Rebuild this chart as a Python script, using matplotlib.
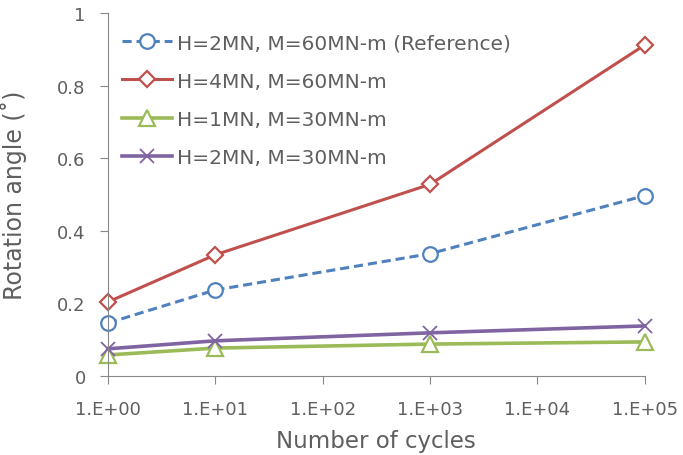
import matplotlib
matplotlib.use("Agg")
import matplotlib.pyplot as plt

plt.rcParams["font.family"] = ["DejaVu Sans"]

cycles = [1, 10, 1000, 100000]
ref_h2_m60 = [0.146, 0.237, 0.337, 0.497]
h4_m60 = [0.204, 0.334, 0.528, 0.912]
h1_m30 = [0.058, 0.077, 0.088, 0.094]
h2_m30 = [0.075, 0.097, 0.119, 0.138]

xticks = [1, 10, 100, 1000, 10000, 100000]
xtick_labels = ["1.E+00", "1.E+01", "1.E+02", "1.E+03", "1.E+04", "1.E+05"]
yticks = [0, 0.2, 0.4, 0.6, 0.8, 1]
ytick_labels = ["0", "0.2", "0.4", "0.6", "0.8", "1"]

fig = plt.figure(figsize=(6.83, 4.56), dpi=100)
ax = fig.add_axes([0.158, 0.1732, 0.786, 0.796])

grey = "#5f5f5f"
ax.plot(cycles, ref_h2_m60, "--", color="#4F81BD", lw=2.2, marker="o", ms=10.5,
        mfc="white", mew=1.6, clip_on=False, dashes=(3, 1.6),
        label="H=2MN, M=60MN-m (Reference)")
ax.plot(cycles, h4_m60, "-", color="#C0504D", lw=2.2, marker="D", ms=8.5,
        mfc="white", mew=1.6, clip_on=False, label="H=4MN, M=60MN-m")
ax.plot(cycles, h1_m30, "-", color="#9BBB59", lw=2.6, marker="^", ms=11,
        mfc="white", mew=1.6, clip_on=False, label="H=1MN, M=30MN-m")
ax.plot(cycles, h2_m30, "-", color="#8064A2", lw=2.6, marker="x", ms=10,
        mew=1.3, clip_on=False, label="H=2MN, M=30MN-m")

ax.set_xscale("log")
ax.set_xlim(1, 100000)
ax.set_ylim(0, 1)
ax.set_xticks(xticks)
ax.set_xticklabels(xtick_labels)
ax.minorticks_off()
ax.set_yticks(yticks)
ax.set_yticklabels(ytick_labels)

for s in ["top", "right"]:
    ax.spines[s].set_visible(False)
for s in ["left", "bottom"]:
    ax.spines[s].set_color("#898989")
ax.tick_params(colors="#898989", labelcolor=grey, labelsize=13, length=6)
ax.tick_params(axis="x", pad=11)
ax.tick_params(axis="y", pad=10)

ax.set_xlabel("Number of cycles", fontsize=16.5, color=grey, labelpad=8)
ax.set_ylabel("Rotation angle (˚)", fontsize=17, color=grey, labelpad=22)

ax.legend(loc="upper left", bbox_to_anchor=(0.026, 0.944), frameon=False,
          borderpad=0, borderaxespad=0, fontsize=14.5, handlelength=2.5,
          handletextpad=0.25, labelspacing=0.95, labelcolor=grey)

fig.savefig("out.png", dpi=100)
